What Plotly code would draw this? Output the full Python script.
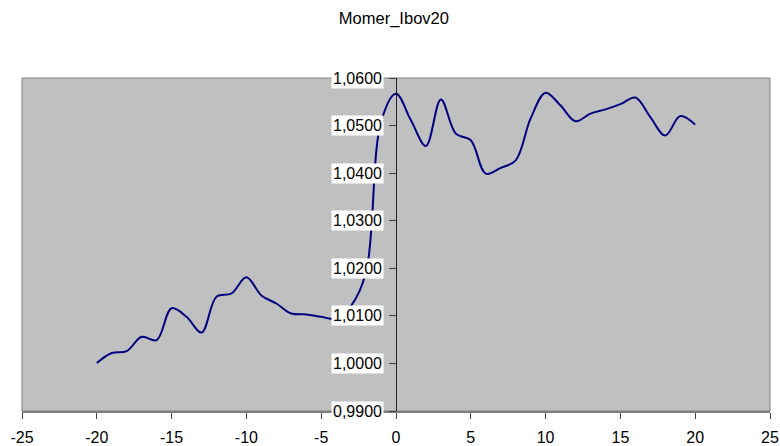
import plotly.graph_objects as go

x_vals = list(range(-20, 21))
y_vals = [1.0001, 1.0022, 1.0026, 1.0056, 1.0049, 1.0116, 1.0098, 1.0065, 1.0140, 1.0147,
          1.0181, 1.0143, 1.0126, 1.0105, 1.0103, 1.0098, 1.0094, 1.0121, 1.0192, 1.0508,
          1.0567, 1.0511, 1.0457, 1.0555, 1.0483, 1.0469, 1.0399, 1.0411, 1.0427, 1.0515,
          1.0569, 1.0542, 1.0509, 1.0525, 1.0534, 1.0545, 1.0559, 1.0518, 1.0479, 1.0520,
          1.0502]
y_ticks = [0.99, 1.00, 1.01, 1.02, 1.03, 1.04, 1.05, 1.06]
y_tick_labels = ["0,9900", "1,0000", "1,0100", "1,0200", "1,0300", "1,0400", "1,0500", "1,0600"]
x_ticks = list(range(-25, 26, 5))
x_tick_labels = [str(v) for v in x_ticks]
title_text = "Momer_Ibov20"

FONT = "Liberation Sans, Arial, sans-serif"

W, H = 780, 446

fig = go.Figure()
fig.add_trace(go.Scatter(
    x=x_vals, y=y_vals, mode="lines",
    line=dict(color="#000080", width=2, shape="spline", smoothing=1),
    hoverinfo="skip", showlegend=False,
))

annotations = []
for v, t in zip(y_ticks, y_tick_labels):
    annotations.append(dict(
        x=0, y=v, xref="x", yref="y", text=t, showarrow=False,
        xanchor="right", yanchor="middle", xshift=-12,
        bgcolor="white", borderpad=1,
        font=dict(family=FONT, size=16, color="black"),
    ))

fig.update_layout(
    width=W, height=H,
    margin=dict(l=22, r=10, t=78, b=35, autoexpand=False),
    paper_bgcolor="white", plot_bgcolor="#C0C0C0",
    title=dict(text=title_text, x=0.505, xanchor="center", y=1 - 18 / H, yanchor="middle",
               font=dict(family=FONT, size=16.5, color="black")),
    xaxis=dict(range=[-25, 25], tickvals=x_ticks, ticktext=x_tick_labels,
               ticks="outside", ticklen=6, automargin=False, ticklabelstandoff=5,
               tickcolor="#404040", showgrid=False, zeroline=False, showline=True,
               linecolor="#808080", linewidth=2,
               tickfont=dict(family=FONT, size=16, color="black")),
    yaxis=dict(range=[0.99, 1.06], tickvals=y_ticks, showticklabels=False,
               ticks="outside", ticklen=7, tickcolor="#404040", automargin=False,
               showgrid=False, zeroline=False, showline=True, linecolor="#202020", linewidth=1,
               anchor="free", position=0.5),
    annotations=annotations,
    shapes=[dict(type="rect", xref="paper", yref="paper", x0=0, y0=0, x1=1, y1=1,
                 line=dict(color="#808080", width=1), layer="below")],
)

# remove the default page margin so the figure fills the 780x446 window exactly
fig.write_html(
    "out.html",
    config={"displayModeBar": False},
    post_script="document.body.style.margin='0';document.body.style.overflow='hidden';",
)
